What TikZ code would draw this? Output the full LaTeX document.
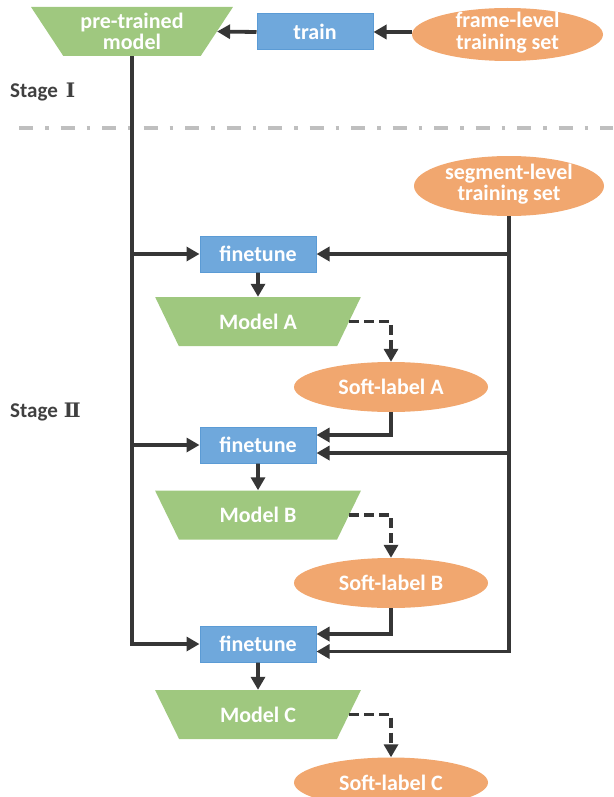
\documentclass[tikz,border=0pt]{standalone}
\usepackage{fontspec}
\setmainfont{Carlito}
\newfontfamily\romfont{DejaVu Serif}
\usetikzlibrary{shapes.geometric,arrows.meta,calc}
\definecolor{cgreen}{HTML}{9FC87F}
\definecolor{cblue}{HTML}{6FA8DC}
\definecolor{cblueb}{HTML}{5B9BD5}
\definecolor{corange}{HTML}{F1A76F}
\definecolor{cline}{HTML}{363636}
\definecolor{cgray}{HTML}{BFBFBF}
\definecolor{ctext}{HTML}{404040}
\begin{document}
\begin{tikzpicture}[x=1pt,y=-1pt,
  lbl/.style={text=white, font=\fontsize{22}{21.5}\selectfont\bfseries, align=center, inner sep=0pt},
  boxnode/.style={lbl, rectangle, fill=cblue, draw=cblueb, line width=1pt, minimum width=116pt, minimum height=36pt},
  trapnode/.style={lbl, trapezium, shape border rotate=180, trapezium stretches=true, fill=cgreen, inner sep=1pt},
  ellnode/.style={ellipse, fill=corange, draw=none, inner sep=0pt},
  stagelbl/.style={text=ctext, font=\fontsize{21}{24}\selectfont\bfseries, inner sep=0pt, anchor=base west},
  arr/.style={draw=cline, line width=3.8pt, -{Triangle[length=13pt,width=14pt]}},
  darr/.style={arr, dash pattern=on 10pt off 5pt},
  sepline/.style={draw=cgray, line width=3.5pt, dash pattern=on 14pt off 12pt on 3.5pt off 12pt}
]
\clip (0,0) rectangle (613,797);

% Stage I
\node[trapnode, trapezium angle=57.7, minimum width=202pt, minimum height=49pt] (pre) at (132,31.5) {pre-trained\\model};
\node[boxnode] (train) at (315,32) {train};
\node[ellnode, minimum width=191pt, minimum height=53pt] (frame) at (507.5,34.5) {};
\node[lbl] (frametxt) at (507.5,32.5) {frame-level\\training set};

\node[stagelbl] (st1) at (10,98) {Stage\hspace{8pt}{\romfont\fontsize{20}{24}\selectfont Ⅰ}};
\coordinate (sepL) at (19,128);
\coordinate (sepR) at (613,128);
\draw[sepline] (sepL) -- (sepR);

% Stage II
\node[stagelbl] (st2) at (10,417) {Stage\hspace{6pt}{\romfont\fontsize{20}{24}\selectfont Ⅱ}};
\node[ellnode, minimum width=190pt, minimum height=60pt] (seg) at (509,186) {};
\node[lbl] (segtxt) at (509,184) {segment-level\\training set};

\node[boxnode] (ft1) at (258,254) {finetune};
\node[trapnode, trapezium angle=56, minimum width=206pt, minimum height=49pt] (mA) at (258,321.5) {Model A};
\node[ellnode, lbl, minimum width=194pt, minimum height=50pt] (sA) at (391,387) {Soft-label A};

\node[boxnode] (ft2) at (258,445) {finetune};
\node[trapnode, trapezium angle=56, minimum width=206pt, minimum height=49pt] (mB) at (258,515) {Model B};
\node[ellnode, lbl, minimum width=194pt, minimum height=50pt] (sB) at (391,583) {Soft-label B};

\node[boxnode] (ft3) at (258,644) {finetune};
\node[trapnode, trapezium angle=56, minimum width=206pt, minimum height=49pt] (mC) at (258,714.5) {Model C};
\node[ellnode, lbl, minimum width=194pt, minimum height=50pt] (sC) at (391,782.5) {Soft-label C};

% top connectors
\draw[arr] (frame.west |- train.east) -- (train.east);
\draw[arr] (train.west) -- (pre.east);

% left trunk
\draw[arr] (pre.south) |- (ft3.west);
\draw[arr] (pre.south |- ft1.west) -- (ft1.west);
\draw[arr] (pre.south |- ft2.west) -- (ft2.west);

% right trunk
\draw[arr] (seg.south) |- ($(ft3.east)+(0,7.5)$);
\draw[arr] (seg.south |- ft1.east) -- (ft1.east);
\draw[arr] (seg.south |- {$(ft2.east)+(0,8)$}) -- ($(ft2.east)+(0,8)$);

% finetune -> model
\draw[arr] (ft1.south) -- (mA.north);
\draw[arr] (ft2.south) -- (mB.north);
\draw[arr] (ft3.south) -- (mC.north);

% model -> soft label (dashed)
\draw[darr] (mA.east) -| (sA.north);
\draw[darr] (mB.east) -| (sB.north);
\draw[darr] (mC.east) -| (sC.north);

% soft label -> next finetune
\draw[arr] (sA.south) |- ($(ft2.east)+(0,-10)$);
\draw[arr] (sB.south) |- ($(ft3.east)+(0,-10)$);
\end{tikzpicture}
\end{document}
